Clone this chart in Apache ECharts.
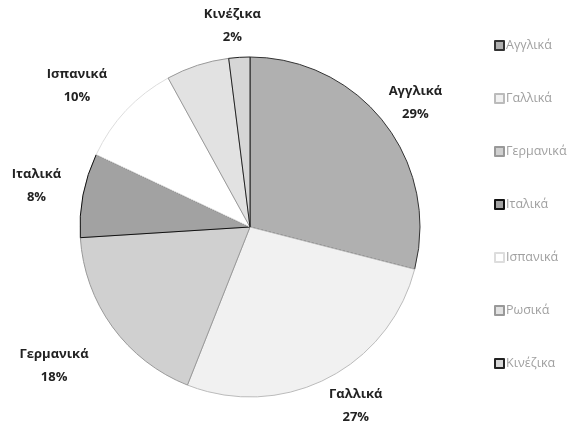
<!DOCTYPE html>
<html><head><meta charset="utf-8">
<script src="https://cdn.jsdelivr.net/npm/echarts@6/dist/echarts.min.js"></script>
<style>html,body{margin:0;padding:0;background:#fff}#c{width:586px;height:430px}</style>
</head><body><div id="c"></div>
<script>
const categories = ['Αγγλικά','Γαλλικά','Γερμανικά','Ιταλικά','Ισπανικά','Ρωσικά','Κινέζικα'];
const values = [29, 27, 18, 8, 10, 6, 2];
const showLabel = [true, true, true, true, true, false, true];
const labelDist = [33, 52, 66, 48, 62, 30, 32];
const labelShift = [[0,0],[0,0],[0,0],[0,0],[-22,12],[0,0],[0,0]];
const colors = ['#b0b0b0','#f1f1f1','#d0d0d0','#a2a2a2','#ffffff','#e2e2e2','#d6d6d6'];
const borders = ['#333','#bbb','#999','#111','#ddd','#999','#222'];

const chart = echarts.init(document.getElementById('c'), null, {renderer:'canvas'});
chart.setOption({
  animation:false,
  legend:{
    orient:'vertical', left:489, top:34, itemGap:40, itemWidth:9, itemHeight:9,
    icon:'rect',
    textStyle:{fontFamily:'Open Sans', fontSize:12.5, color:'#a0a0a0', padding:[0,0,0,-3]},
    data: categories
  },
  series:[{
    type:'pie', center:[250,227], radius:170, startAngle:90, clockwise:true,
    label:{show:true, position:'outside', formatter:'{b}\n{d}%', fontFamily:'Open Sans', fontWeight:'bold', fontSize:13, color:'#222', lineHeight:23, overflow:'none'},
    labelLine:{show:false, length:38, length2:0},
    labelLayout:function(p){
      const s = labelShift[p.dataIndex];
      return {align:'center', verticalAlign:'middle', hideOverlap:false, dx:s[0], dy:s[1]};
    },
    data: categories.map((c,i)=>({name:c, value:values[i], label:{show:showLabel[i]},
      labelLine:{length:labelDist[i], length2:0},
      itemStyle:{color:colors[i], borderColor:borders[i], borderWidth:1}}))
  }]
});
</script></body></html>
